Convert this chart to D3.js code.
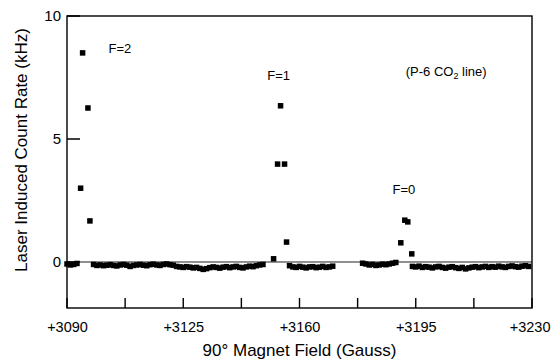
<!DOCTYPE html>
<html>
<head>
<meta charset="utf-8">
<script src="https://cdn.jsdelivr.net/npm/d3@7"></script>
<style>
	html, body { margin: 0; padding: 0; background: #fff; }
	svg { display: block; font-family: "Liberation Sans", Arial, Helvetica, sans-serif; }
</style>
</head>
<body>
<svg id="chart" width="552" height="362"></svg>
<script>
// peak points (field in Gauss, count rate in kHz)
var peakField = [3094.1, 3094.7, 3096.3, 3096.9, 3152.2, 3153.4, 3154.3, 3155.5, 3156.1, 3190.5, 3191.7, 3192.6, 3193.8];
var peakCount = [3.0, 8.5, 6.26, 1.67, 0.13, 3.98, 6.35, 3.98, 0.81, 0.78, 1.7, 1.63, 0.33];

// off-resonance baseline scans, 1 Gauss steps from start
var baseA = { start: 3090, counts: [-0.08, -0.12, -0.10, -0.06] };
var baseB = { start: 3098, counts: [-0.10, -0.14, -0.12, -0.15, -0.13, -0.11, -0.14, -0.16, -0.12, -0.10,
	-0.13, -0.18, -0.14, -0.12, -0.10, -0.13, -0.15, -0.11, -0.09, -0.12, -0.14, -0.10, -0.08, -0.11, -0.13,
	-0.18, -0.20, -0.22, -0.19, -0.21, -0.24, -0.22, -0.26, -0.30, -0.27, -0.23, -0.20, -0.22, -0.25, -0.21,
	-0.19, -0.23, -0.20, -0.18, -0.22, -0.24, -0.20, -0.17, -0.19, -0.15, -0.12, -0.10] };
var baseC = { start: 3157, counts: [-0.15, -0.20, -0.22, -0.18, -0.21, -0.24, -0.20, -0.19, -0.23, -0.21, -0.18, -0.22, -0.20, -0.17] };
var baseD = { start: 3179, counts: [-0.05, -0.08, -0.12, -0.10, -0.14, -0.12, -0.09, -0.11, -0.08, -0.05, -0.02] };
var baseE = { start: 3194, counts: [-0.18, -0.20, -0.17, -0.22, -0.19, -0.21, -0.24, -0.20, -0.18, -0.22,
	-0.25, -0.21, -0.19, -0.23, -0.26, -0.22, -0.28, -0.24, -0.21, -0.19, -0.23, -0.20, -0.18, -0.22, -0.19,
	-0.21, -0.17, -0.20, -0.22, -0.18, -0.16, -0.19, -0.21, -0.17, -0.15, -0.18] };

var xTicks = [3090, 3107.5, 3125, 3142.5, 3160, 3177.5, 3195, 3212.5, 3230];
var xTickLabels = ["+3090", "", "+3125", "", "+3160", "", "+3195", "", "+3230"];
var yTicks = [0, 5, 10];

var peakLabels = [
	{ text: "F=2", field: 3102.5, count: 8.5 },
	{ text: "F=1", field: 3150.3, count: 7.4 },
	{ text: "F=0", field: 3188, count: 2.75 }
];

(function(){
	'use strict';

	var svg = d3.select("#chart");
	var margin = {top: 16, right: 20, bottom: 54, left: 67};
	var width = 552 - margin.left - margin.right;
	var height = 362 - margin.top - margin.bottom;

	var x = d3.scaleLinear().domain([3090, 3230]).range([0, width]);
	var y = d3.scaleLinear().domain([-1.87, 10]).range([height, 0]);

	var g = svg.append("g")
		.attr("transform", "translate(" + margin.left + "," + margin.top + ")");

	// collect all points
	var points = [];
	[baseA, baseB, baseC, baseD, baseE].forEach(function(seg){
		seg.counts.forEach(function(c, i){
			points.push({ field: seg.start + i, count: c });
		});
	});
	peakField.forEach(function(f, i){
		points.push({ field: f, count: peakCount[i] });
	});

	// zero line
	g.append("line")
		.attr("x1", 0).attr("x2", width)
		.attr("y1", y(0)).attr("y2", y(0))
		.attr("stroke", "#222")
		.attr("stroke-width", 1);

	// markers
	var s = 5.5;
	g.append("g").selectAll("rect")
		.data(points)
	.enter().append("rect")
		.attr("x", function(d){ return x(d.field) - s / 2; })
		.attr("y", function(d){ return y(d.count) - s / 2; })
		.attr("width", s)
		.attr("height", s)
		.attr("fill", "#000");

	// frame
	g.append("rect")
		.attr("width", width)
		.attr("height", height)
		.attr("fill", "none")
		.attr("stroke", "#000")
		.attr("stroke-width", 1.4);

	// inward tick marks
	var tickPath = d3.path();
	xTicks.forEach(function(d){
		tickPath.moveTo(x(d), height);
		tickPath.lineTo(x(d), height - 10);
	});
	yTicks.forEach(function(d){
		tickPath.moveTo(0, y(d));
		tickPath.lineTo(13, y(d));
	});
	g.append("path")
		.attr("d", tickPath.toString())
		.attr("fill", "none")
		.attr("stroke", "#000")
		.attr("stroke-width", 1.4);

	// x axis labels
	var xAxis = d3.axisBottom(x)
		.tickValues(xTicks)
		.tickSize(0)
		.tickPadding(14)
		.tickFormat(function(d, i){ return xTickLabels[i]; });
	var gx = g.append("g")
		.attr("transform", "translate(0," + height + ")")
		.call(xAxis);
	gx.select(".domain").remove();
	gx.selectAll(".tick line").remove();
	gx.selectAll(".tick text")
		.attr("font-size", 14.5)
		.attr("fill", "#000")
		.attr("font-family", "Liberation Sans, Arial, sans-serif");
	// keep the last label inside the page
	gx.selectAll(".tick text").filter(function(d){ return d === 3230; })
		.attr("text-anchor", "end")
		.attr("dx", 18);

	// y axis labels
	var yAxis = d3.axisLeft(y)
		.tickValues(yTicks)
		.tickSize(0)
		.tickPadding(6)
		.tickFormat(d3.format("d"));
	var gy = g.append("g").call(yAxis);
	gy.select(".domain").remove();
	gy.selectAll(".tick line").remove();
	gy.selectAll(".tick text")
		.attr("font-size", 15)
		.attr("fill", "#000")
		.attr("font-family", "Liberation Sans, Arial, sans-serif");

	// axis titles
	svg.append("text")
		.attr("x", margin.left + width / 2)
		.attr("y", 356)
		.attr("text-anchor", "middle")
		.attr("font-size", 17)
		.text("90° Magnet Field (Gauss)");

	svg.append("text")
		.attr("transform", "translate(27," + 150 + ") rotate(-90)")
		.attr("text-anchor", "middle")
		.attr("font-size", 17)
		.text("Laser Induced Count Rate (kHz)");

	// peak annotations
	g.append("g").selectAll("text")
		.data(peakLabels)
	.enter().append("text")
		.attr("x", function(d){ return x(d.field); })
		.attr("y", function(d){ return y(d.count); })
		.attr("font-size", 13)
		.text(function(d){ return d.text; });

	var note = g.append("text")
		.attr("x", x(3192))
		.attr("y", y(7.55))
		.attr("font-size", 13);
	note.append("tspan").text("(P-6 CO");
	note.append("tspan").attr("font-size", 9).attr("dy", 3).text("2");
	note.append("tspan").attr("dy", -3).text(" line)");
}());
</script>
</body>
</html>
